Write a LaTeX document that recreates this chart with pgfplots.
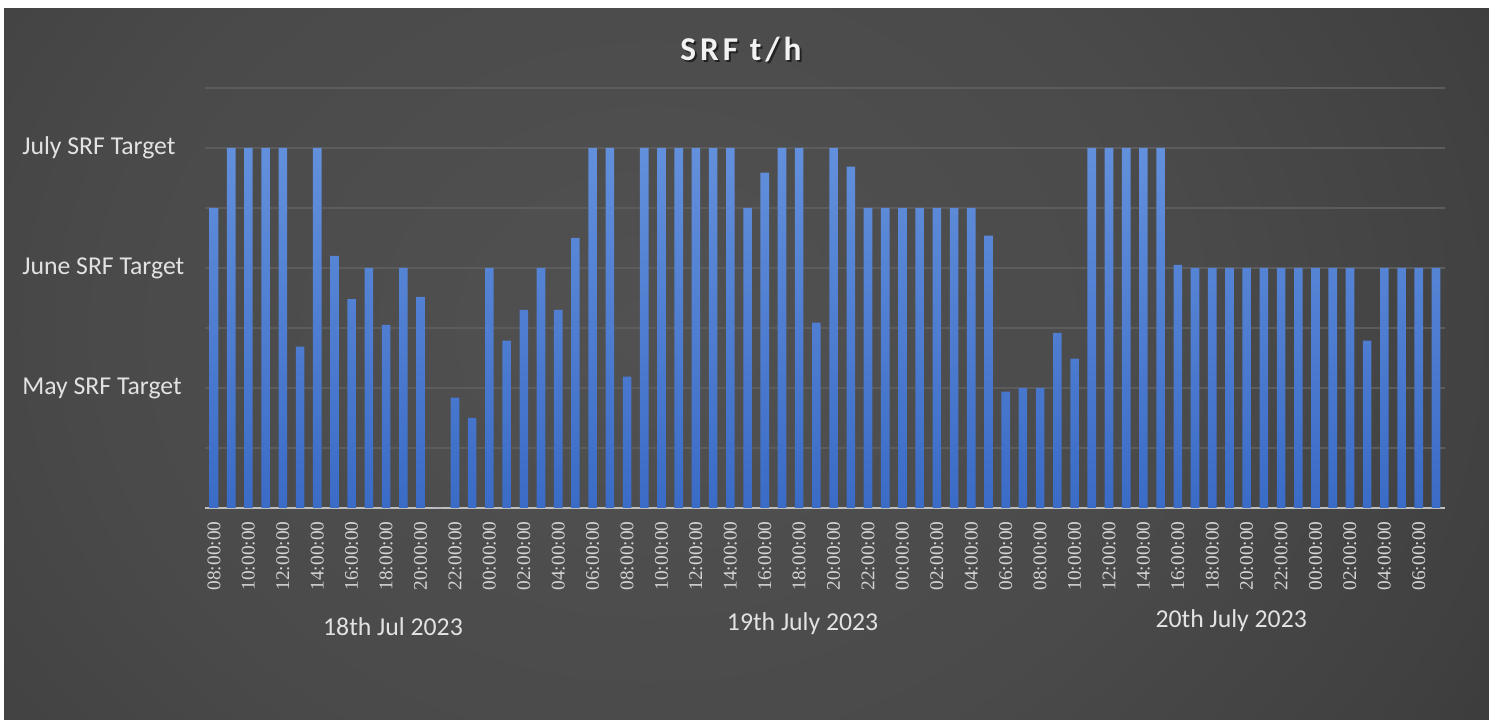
\documentclass[border=0pt]{standalone}
\usepackage{fontspec}
\setmainfont{Carlito}
\newfontfamily\titlefont{Carlito}[LetterSpace=12]
\newfontfamily\tickfont{Liberation Serif}
\usepackage{pgfplots}
\pgfplotsset{compat=1.18}
\usepackage{pgfplotstable}

\definecolor{bgA}{HTML}{515151}
\definecolor{bgB}{HTML}{4A4A4A}
\definecolor{bgC}{HTML}{404040}
\definecolor{bgD}{HTML}{333333}
\definecolor{bgE}{HTML}{2A2A2A}
\definecolor{bgF}{HTML}{242424}
\definecolor{barTop}{HTML}{6390DC}
\definecolor{barBot}{HTML}{3A6BC6}
\definecolor{gridc}{HTML}{5C5C5C}
\definecolor{axisc}{HTML}{BFBFBF}
\definecolor{tickc}{HTML}{D4D4D4}
\definecolor{labc}{HTML}{E2E2E2}
\definecolor{titlec}{HTML}{F2F2F2}

\pgfdeclareradialshading{bgshade}{\pgfpoint{0bp}{0bp}}{color(0bp)=(bgA); color(16bp)=(bgB); color(26bp)=(bgC); color(34bp)=(bgD); color(44bp)=(bgE); color(60bp)=(bgF); color(72bp)=(bgF)}

\pgfplotstableread{
i v
0 5.0
1 6
2 6
3 6
4 6
5 2.69
6 6
7 4.2
8 3.48
9 4.0
10 3.05
11 4.0
12 3.52
13 0
14 1.84
15 1.50
16 4.0
17 2.79
18 3.30
19 4.0
20 3.30
21 4.5
22 6
23 6
24 2.19
25 6
26 6
27 6
28 6
29 6
30 6
31 5.0
32 5.59
33 6
34 6
35 3.09
36 6
37 5.69
38 5
39 5
40 5
41 5
42 5
43 5
44 5
45 4.54
46 1.94
47 2.0
48 2.0
49 2.92
50 2.49
51 6
52 6
53 6
54 6
55 6
56 4.05
57 4.0
58 4.0
59 4.0
60 4.0
61 4.0
62 4.0
63 4.0
64 4.0
65 4.0
66 4.0
67 2.79
68 4.0
69 4.0
70 4.0
71 4.0
}\srfdata

\begin{document}
\begin{tikzpicture}[x=0.75pt,y=0.75pt]
\path[use as bounding box] (0,0) rectangle (1489,720);
\fill[white] (0,0) rectangle (1489,720);
\begin{scope}
\clip (4,0) rectangle (1489,711);
\shade[shading=bgshade] (-200,-310) rectangle (1500,1090);
\end{scope}
% title with shadow
\node[font=\titlefont\bfseries\fontsize{25}{27}\selectfont, text=black, opacity=0.55] at (743,668) {SRF t/h};
\node[font=\titlefont\bfseries\fontsize{25}{27}\selectfont, text=titlec] at (741,670) {SRF t/h};
\begin{axis}[
  at={(154.05pt,159pt)}, anchor=south west,
  scale only axis, width=929.4pt, height=315pt,
  xmin=-0.5, xmax=71.5, ymin=0, ymax=7,
  ybar, bar width=0.5,
  clip=false,
  ytick={1,...,7},
  yticklabels={,May SRF Target,,June SRF Target,,July SRF Target,},
  ymajorgrids, grid style={color=gridc, line width=0.9pt},
  xtick={0,2,...,70},
  xticklabels={08:00:00,10:00:00,12:00:00,14:00:00,16:00:00,18:00:00,20:00:00,22:00:00,00:00:00,02:00:00,04:00:00,06:00:00,08:00:00,10:00:00,12:00:00,14:00:00,16:00:00,18:00:00,20:00:00,22:00:00,00:00:00,02:00:00,04:00:00,06:00:00,08:00:00,10:00:00,12:00:00,14:00:00,16:00:00,18:00:00,20:00:00,22:00:00,00:00:00,02:00:00,04:00:00,06:00:00},
  major tick length=0,
  axis lines*=left,
  y axis line style={draw=none},
  x axis line style={draw=axisc, line width=1.3pt},
  xticklabel style={yshift=-10pt, rotate=90, anchor=east, font=\tickfont\fontsize{14.5}{15}\selectfont, text=tickc, inner sep=0pt},
  yticklabel style={anchor=west, font=\fontsize{19.3}{21}\selectfont, text=labc, inner sep=0pt, xshift=-137.5pt},
]
\addplot[draw=none, top color=barTop, bottom color=barBot] table[x=i, y=v] {\srfdata};
\node[font=\fontsize{19.3}{21}\selectfont, text=labc] at (axis cs:10.4,-1.98) {18th Jul 2023};
\node[font=\fontsize{19.3}{21}\selectfont, text=labc] at (axis cs:34.2,-1.92) {19th July 2023};
\node[font=\fontsize{19.3}{21}\selectfont, text=labc] at (axis cs:59.1,-1.87) {20th July 2023};
\end{axis}
\end{tikzpicture}
\end{document}
